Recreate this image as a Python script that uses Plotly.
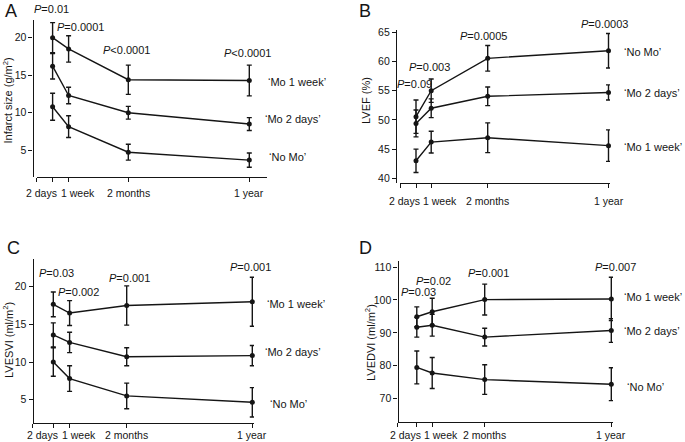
import plotly.graph_objects as go

# ---------------- data ----------------
TIMES = ["2 days", "1 week", "2 months", "1 year"]
GROUPS = ["No Mo", "Mo 2 days", "Mo 1 week"]

# A: infarct size (g/m2)
infarct_no_mo = [10.8, 8.15, 4.75, 3.7]
infarct_no_mo_err = [1.8, 1.45, 1.05, 0.95]
infarct_mo_2days = [16.2, 12.3, 10.0, 8.5]
infarct_mo_2days_err = [1.7, 1.1, 0.85, 0.85]
infarct_mo_1week = [20.0, 18.5, 14.4, 14.3]
infarct_mo_1week_err = [2.0, 1.75, 1.95, 2.05]
infarct_p = ["=0.01", "=0.0001", "<0.0001", "<0.0001"]

# B: LVEF (%)
lvef_no_mo = [50.55, 55.0, 60.55, 61.85]
lvef_no_mo_err = [2.85, 2.0, 2.2, 2.95]
lvef_mo_2days = [49.4, 52.0, 54.05, 54.7]
lvef_mo_2days_err = [2.3, 1.6, 1.6, 1.3]
lvef_mo_1week = [43.0, 46.2, 46.95, 45.6]
lvef_mo_1week_err = [2.0, 1.85, 2.55, 2.7]
lvef_p = ["=0.09", "=0.003", "=0.0005", "=0.0003"]

# C: LVESVI (ml/m2)
lvesvi_no_mo = [10.0, 7.8, 5.5, 4.65]
lvesvi_no_mo_err = [1.9, 1.7, 1.7, 1.95]
lvesvi_mo_2days = [13.6, 12.6, 10.7, 10.85]
lvesvi_mo_2days_err = [1.6, 1.35, 1.2, 1.35]
lvesvi_mo_1week = [17.65, 16.5, 17.5, 18.0]
lvesvi_mo_1week_err = [1.65, 1.65, 2.6, 3.25]
lvesvi_p = ["=0.03", "=0.002", "=0.001", "=0.001"]

# D: LVEDVI (ml/m2)
lvedvi_no_mo = [79.5, 77.8, 75.8, 74.4]
lvedvi_no_mo_err = [5.0, 4.7, 4.5, 5.0]
lvedvi_mo_2days = [91.7, 92.3, 88.7, 90.7]
lvedvi_mo_2days_err = [3.0, 3.3, 2.7, 3.6]
lvedvi_mo_1week = [94.9, 96.4, 100.1, 100.3]
lvedvi_mo_1week_err = [3.0, 4.1, 4.7, 6.6]
lvedvi_p = ["=0.03", "=0.02", "=0.001", "=0.007"]

# ---------------- layout (pixel geometry) ----------------
W, H = 685, 442
FONT = "Arial, 'Liberation Sans', Helvetica, sans-serif"
INK = "#151515"


def fx(x):
    return x / W


def fy(y):
    return 1 - y / H


panels = [
    dict(letter="A", title="Infarct size (g/m<sup>2</sup>)",
         series=[(infarct_no_mo, infarct_no_mo_err), (infarct_mo_2days, infarct_mo_2days_err),
                 (infarct_mo_1week, infarct_mo_1week_err)],
         pvals=infarct_p, yticks=[5, 10, 15, 20],
         yaxis_x=32.6, x0=36.5, x1=267, ytop=20, ybot=176.5,
         ycal=(20, 37.67, 5, 150.33), tickpos=[52.6, 68.6, 128.3, 249.3],
         ticklab_y=193, title_xy=(7.5, 101), letter_xy=(10.5, 11),
         p_xy=[(31.7, 9.3), (55, 26.7), (100.7, 50), (221.7, 52.7)],
         lab_xy={"Mo 1 week": (266, 82), "Mo 2 days": (262.5, 119), "No Mo": (266.5, 157)}),
    dict(letter="B", title="LVEF (%)",
         series=[(lvef_no_mo, lvef_no_mo_err), (lvef_mo_2days, lvef_mo_2days_err),
                 (lvef_mo_1week, lvef_mo_1week_err)],
         pvals=lvef_p, yticks=[40, 45, 50, 55, 60, 65],
         yaxis_x=396, x0=400, x1=610, ytop=30, ybot=183.3,
         ycal=(65, 32.33, 40, 178.33), tickpos=[416, 431.2, 487.7, 608.5],
         ticklab_y=201.5, title_xy=(366, 100), letter_xy=(365, 11),
         p_xy=[(395.3, 84.3), (407, 66.7), (458, 36), (578.7, 24)],
         lab_xy={"No Mo": (621.5, 52), "Mo 2 days": (621.5, 93), "Mo 1 week": (621.5, 147)}),
    dict(letter="C", title="LVESVI (ml/m<sup>2</sup>)",
         series=[(lvesvi_no_mo, lvesvi_no_mo_err), (lvesvi_mo_2days, lvesvi_mo_2days_err),
                 (lvesvi_mo_1week, lvesvi_mo_1week_err)],
         pvals=lvesvi_p, yticks=[5, 10, 15, 20],
         yaxis_x=32.7, x0=32.7, x1=254, ytop=259.3, ybot=422.7,
         ycal=(20, 286.67, 5, 399.67), tickpos=[53.3, 69.6, 126.7, 252.3],
         ticklab_y=434.5, title_xy=(8, 340), letter_xy=(13.7, 248),
         p_xy=[(37.3, 273.3), (56, 291.7), (106.7, 277.7), (227.7, 267)],
         lab_xy={"Mo 1 week": (265, 304), "Mo 2 days": (262.5, 352), "No Mo": (267.5, 404)}),
    dict(letter="D", title="LVEDVI (ml/m<sup>2</sup>)",
         series=[(lvedvi_no_mo, lvedvi_no_mo_err), (lvedvi_mo_2days, lvedvi_mo_2days_err),
                 (lvedvi_mo_1week, lvedvi_mo_1week_err)],
         pvals=lvedvi_p, yticks=[70, 80, 90, 100, 110],
         yaxis_x=397.5, x0=397.5, x1=613, ytop=261, ybot=422,
         ycal=(110, 267, 70, 398.67), tickpos=[416.8, 432.2, 484.7, 611.3],
         ticklab_y=434.5, title_xy=(370, 343), letter_xy=(365.7, 248),
         p_xy=[(399.3, 292), (413.7, 281), (466, 273.3), (592.7, 266.7)],
         lab_xy={"Mo 1 week": (621.5, 297), "Mo 2 days": (621.5, 331), "No Mo": (624.5, 387)}),
]

TICKLAB_SHIFT = [-11, 9, 0, 0]

fig = go.Figure()
annotations = []
layout = dict(
    width=W, height=H, margin=dict(l=0, r=0, t=0, b=0, autoexpand=False),
    paper_bgcolor="white", plot_bgcolor="white", showlegend=False,
    font=dict(family=FONT, color=INK, size=10),
)

for i, p in enumerate(panels, start=1):
    xa, ya = f"x{i}", f"y{i}"
    v1, p1, v2, p2 = p["ycal"]
    scale = (v1 - v2) / (p2 - p1)  # units per px
    y_hi = v1 + (p1 - p["ytop"]) * scale
    y_lo = v1 - (p["ybot"] - p1) * scale
    pos = dict(zip(TIMES, p["tickpos"]))

    for g, (vals, errs) in zip(GROUPS, p["series"]):
        fig.add_trace(go.Scatter(
            x=[pos[t] for t in TIMES], y=vals, name=g,
            mode="lines+markers", xaxis=xa, yaxis=ya, cliponaxis=False,
            line=dict(color=INK, width=1.4),
            marker=dict(color=INK, size=5),
            error_y=dict(type="data", array=errs, visible=True, color=INK,
                         thickness=1.4, width=2.5),
        ))

    layout[f"xaxis{i}"] = dict(
        domain=[fx(p["x0"]), fx(p["x1"])], range=[p["x0"], p["x1"]], anchor=ya,
        showline=True, linecolor=INK, linewidth=1.3, showgrid=False, zeroline=False,
        ticks="outside", ticklen=4, tickwidth=1.2, tickcolor=INK,
        tickvals=[p["x0"]] + p["tickpos"], showticklabels=False, fixedrange=True,
    )
    layout[f"yaxis{i}"] = dict(
        domain=[fy(p["ybot"]), fy(p["ytop"])], range=[y_lo, y_hi],
        anchor="free", position=fx(p["yaxis_x"]),
        showline=True, linecolor=INK, linewidth=1.3, showgrid=False, zeroline=False,
        ticks="outside", ticklen=4, tickwidth=1.2, tickcolor=INK,
        tickvals=p["yticks"], tickfont=dict(size=10.5, color=INK), fixedrange=True,
    )

    # x tick labels
    for j, t in enumerate(TIMES):
        annotations.append(dict(
            text=t, xref=xa, yref="paper", x=pos[t], y=fy(p["ticklab_y"]),
            xshift=TICKLAB_SHIFT[j], showarrow=False, xanchor="center", yanchor="middle",
            font=dict(size=10.5, color=INK)))
    # y title
    tx, ty = p["title_xy"]
    annotations.append(dict(text=p["title"], xref="paper", yref="paper", x=fx(tx), y=fy(ty),
                            textangle=-90, showarrow=False, xanchor="center", yanchor="middle",
                            font=dict(size=11, color=INK)))
    # panel letter
    lx, ly = p["letter_xy"]
    annotations.append(dict(text=p["letter"], xref="paper", yref="paper", x=fx(lx), y=fy(ly),
                            showarrow=False, xanchor="center", yanchor="middle",
                            font=dict(size=18, color=INK)))
    # P values
    for txt, (px_, py_) in zip(p["pvals"], p["p_xy"]):
        annotations.append(dict(text="<i>P</i>" + txt, xref="paper", yref="paper",
                                x=fx(px_), y=fy(py_), showarrow=False,
                                xanchor="left", yanchor="middle",
                                font=dict(size=11, color=INK)))
    # group labels
    for g in GROUPS:
        gx, gy = p["lab_xy"][g]
        annotations.append(dict(text="\u2018" + g + "\u2019", xref="paper", yref="paper",
                                x=fx(gx), y=fy(gy), showarrow=False,
                                xanchor="left", yanchor="middle",
                                font=dict(size=11, color=INK)))

layout["annotations"] = annotations
fig.update_layout(**layout)
fig.write_html("out.html", config={"displayModeBar": False},
               post_script="document.body.style.margin='0';document.body.style.overflow='hidden';")
